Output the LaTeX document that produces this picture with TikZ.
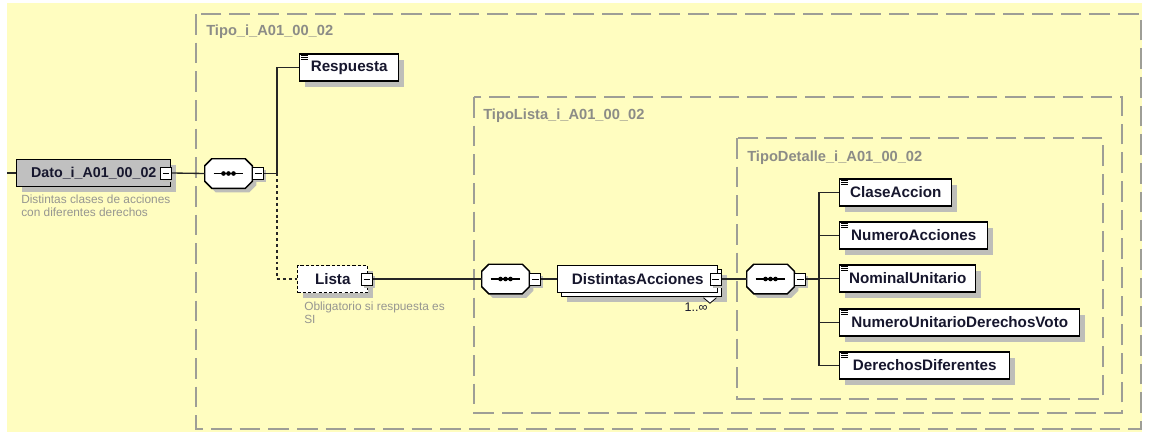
\documentclass[tikz,border=0pt]{standalone}
\usepackage{fontspec}
\setmainfont{Liberation Sans}
\usetikzlibrary{shadows}
\definecolor{bgyellow}{RGB}{255,253,192}
\definecolor{dashgray}{RGB}{158,158,150}
\definecolor{labelgray}{RGB}{140,140,135}
\definecolor{descgray}{RGB}{150,150,145}
\definecolor{shadowgray}{RGB}{190,190,185}
\definecolor{ink}{RGB}{22,22,45}
\definecolor{datofill}{RGB}{192,192,192}
\newcommand\octpath[3]{([shift={(#2+7,#3)}]#1.north west) -- ([shift={(#2-7,#3)}]#1.north east) -- ([shift={(#2,#3+7)}]#1.north east) -- ([shift={(#2,#3-7)}]#1.south east) -- ([shift={(#2-7,#3)}]#1.south east) -- ([shift={(#2+7,#3)}]#1.south west) -- ([shift={(#2,#3-7)}]#1.south west) -- ([shift={(#2,#3+7)}]#1.north west) -- cycle}
\newcommand\seqdraw[1]{%
  \fill[shadowgray] \octpath{#1}{4}{4};
  \draw[fill=white, line width=1.1pt] \octpath{#1}{0}{0};
  \draw[line width=0.9pt] ([shift={(9,0)}]#1.west) -- ([shift={(-9,0)}]#1.east);
  \foreach \d in {-5,0,5} \fill ([shift={(\d,0)}]#1.center) circle[radius=1.75pt];
}
\newcommand\docicon[1]{%
  \foreach \k in {0,1,2} \draw[line width=0.55pt] ([shift={(2,2.5+2*\k)}]#1.north west) -- ++(7,0);
}
\begin{document}
\begin{tikzpicture}[x=0.75pt,y=-0.75pt,
  elem/.style={draw=black, fill=white, line width=1.1pt, minimum height=27*0.75pt, inner sep=0pt, anchor=west, font=\fontsize{11.4}{13}\selectfont\bfseries, text=ink},
  shad/.style={drop shadow={shadow xshift=4pt, shadow yshift=-4.2pt, fill=shadowgray, opacity=1}},
  smallshad/.style={drop shadow={shadow xshift=2pt, shadow yshift=-2pt, fill=shadowgray, opacity=1}},
  minusbox/.style={draw=black, fill=white, line width=0.75pt, minimum width=11*0.75pt, minimum height=12*0.75pt, inner sep=0pt, smallshad,
    path picture={\draw[line width=0.75pt] ([xshift=1.6pt]path picture bounding box.west) -- ([xshift=-1.6pt]path picture bounding box.east);}},
  seqn/.style={minimum width=47*0.75pt, minimum height=29*0.75pt, inner sep=0pt, draw=none},
  frame/.style={draw=dashgray, line width=1pt, dash pattern=on 15.5pt off 6pt},
  framelabel/.style={anchor=base west, inner sep=0pt, text=labelgray, font=\fontsize{11}{13}\selectfont\bfseries},
  desc/.style={anchor=north west, inner sep=0pt, align=left, text=descgray, font=\fontsize{8.9}{9.8}\selectfont},
  conn/.style={draw=black!85, line width=1pt},
  optconn/.style={draw=black!85, line width=1pt, dash pattern=on 2.2pt off 2.2pt}
]
\useasboundingbox (0,0) rectangle (1152,432);
\fill[bgyellow] (7,3) rectangle (1142,432);

% frames
\draw[frame] (196,14) rectangle (1141,429);
\draw[frame] (474,97) rectangle (1122,413);
\draw[frame] (737,138) rectangle (1103,399);
\node[framelabel] (l1) at (206,35) {Tipo\_i\_A01\_00\_02};
\node[framelabel] (l2) at (483,119) {TipoLista\_i\_A01\_00\_02};
\node[framelabel] (l3) at (747,161) {TipoDetalle\_i\_A01\_00\_02};

% root element
\coordinate (start) at (7,173);
\node[elem, fill=datofill, shad, minimum width=154*0.75pt, font=\fontsize{10.7}{13}\selectfont\bfseries] (dato) at (16,173) {Dato\_i\_A01\_00\_02\hspace{12pt}};
\node[minusbox] (datom) at (166,173) {};
\node[desc] (datod) at (21,195) {Distintas clases de acciones\\con diferentes derechos};

% sequence 1
\node[seqn] (s1) at (228.5,173.5) {};
\seqdraw{s1}
\node[minusbox, anchor=west] (s1m) at (s1.east) {};
\coordinate (b1) at (277,173.5);

% Respuesta
\node[elem, shad, minimum width=99*0.75pt] (resp) at (299,67.5) {Respuesta};
\docicon{resp}

% Lista
\node[elem, shad, dash pattern=on 2.3pt off 1.6pt, minimum width=70*0.75pt] (lista) at (297,279) {Lista\hspace{7pt}};
\node[minusbox] (listam) at (367,279) {};
\node[desc] (listad) at (304,302) {Obligatorio si respuesta es\\SI};

% sequence 2
\node[seqn] (s2) at (505.5,279) {};
\seqdraw{s2}
\node[minusbox, anchor=west] (s2m) at (s2.east) {};

% DistintasAcciones (repeated)
\node[elem, shad, minimum width=160*0.75pt] (da2) at (561,283) {};
\node[elem, minimum width=160*0.75pt] (da) at (557,279) {DistintasAcciones\hspace{8pt}};
\node[minusbox, drop shadow={opacity=0}] (dam) at (715.5,279) {};
\draw[line width=0.6pt, fill=white] ([shift={(-19,0.5)}]da2.south east) -- ([shift={(-12.5,6)}]da2.south east) -- ([shift={(-6,0.5)}]da2.south east);
\node[anchor=north, inner sep=0pt, text=ink, font=\fontsize{9.4}{11}\selectfont] (card) at (696,303) {1..∞};

% sequence 3
\node[seqn] (s3) at (770.5,279) {};
\seqdraw{s3}
\node[minusbox, anchor=west] (s3m) at (s3.east) {};
\coordinate (b3) at (819,279);

% children
\node[elem, shad, minimum width=112*0.75pt] (c1) at (839,192.5) {ClaseAccion};
\node[elem, shad, minimum width=148*0.75pt] (c2) at (839,235.5) {NumeroAcciones};
\node[elem, shad, minimum width=136*0.75pt] (c3) at (839,278.5) {NominalUnitario};
\node[elem, shad, minimum width=240*0.75pt] (c4) at (839,322.5) {NumeroUnitarioDerechosVoto};
\node[elem, shad, minimum width=170*0.75pt] (c5) at (839,365.5) {DerechosDiferentes};
\foreach \c in {c1,c2,c3,c4,c5} {\docicon{\c}}

% connectors
\draw[conn] (start) -- (dato.west);
\draw[conn] (datom.east) -- (s1.west);
\draw[conn] (s1m.east) -- (b1);
\draw[conn] (b1) |- (resp.west);
\draw[optconn] (b1) |- (lista.west);
\draw[conn] (listam.east) -- (s2.west);
\draw[conn] (s2m.east) -- (da.west);
\draw[conn] (dam.east) -- (s3.west);
\draw[conn] (s3m.east) -- (b3);
\foreach \c in {c1,c2,c3,c4,c5} {\draw[conn] (b3) |- (\c.west);}
\end{tikzpicture}
\end{document}
